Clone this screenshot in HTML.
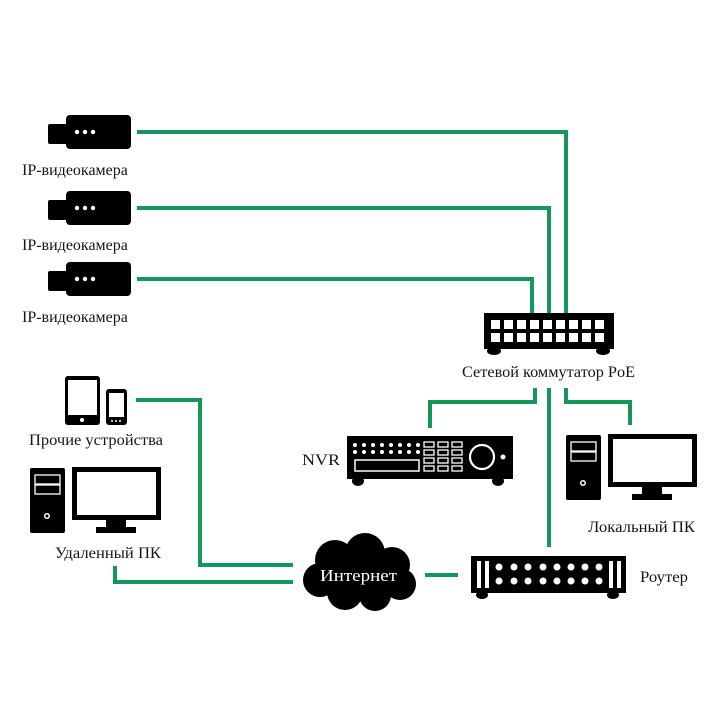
<!DOCTYPE html>
<html><head><meta charset="utf-8"><style>
html,body{margin:0;padding:0;background:#fff}
svg{display:block}
text{font-family:"Liberation Serif",serif;font-size:16px;fill:#151515}
</style></head><body>
<svg width="727" height="727" viewBox="0 0 727 727" xmlns="http://www.w3.org/2000/svg">
<g fill="none" stroke="#14975a" stroke-width="4">
<polyline points="137,132 566,132 566,313"/>
<polyline points="137,208 549,208 549,313"/>
<polyline points="137,279 532,279 532,313"/>
<polyline points="535,388 535,402 430,402 430,428"/>
<line x1="549" y1="388" x2="549" y2="547"/>
<polyline points="566,388 566,402 630,402 630,425"/>
<line x1="425" y1="575" x2="458" y2="575"/>
<polyline points="136,400 200,400 200,565 293,565"/>
<polyline points="115,566 115,582 293,582"/>
</g>
<g id="cam">
<rect x="66" y="115" width="65" height="34" rx="4" fill="#000"/>
<rect x="48" y="124" width="20" height="20" rx="2" fill="#000"/>
<circle cx="77" cy="132" r="2.2" fill="#fff"/><circle cx="85" cy="132" r="2.2" fill="#fff"/><circle cx="93" cy="132" r="2.2" fill="#fff"/>
</g>
<use href="#cam" y="76"/>
<use href="#cam" y="147"/>
<text x="22" y="175">IP-видеокамера</text>
<text x="22" y="250">IP-видеокамера</text>
<text x="22" y="322">IP-видеокамера</text>
<rect x="484" y="313" width="130" height="36" fill="#000"/>
<g fill="#fff">
<rect x="491" y="320" width="9" height="9"/><rect x="504" y="320" width="9" height="9"/><rect x="517" y="320" width="9" height="9"/><rect x="530" y="320" width="9" height="9"/><rect x="543" y="320" width="9" height="9"/><rect x="556" y="320" width="9" height="9"/><rect x="569" y="320" width="9" height="9"/><rect x="582" y="320" width="9" height="9"/><rect x="595" y="320" width="9" height="9"/>
<rect x="491" y="333" width="9" height="9"/><rect x="504" y="333" width="9" height="9"/><rect x="517" y="333" width="9" height="9"/><rect x="530" y="333" width="9" height="9"/><rect x="543" y="333" width="9" height="9"/><rect x="556" y="333" width="9" height="9"/><rect x="569" y="333" width="9" height="9"/><rect x="582" y="333" width="9" height="9"/><rect x="595" y="333" width="9" height="9"/>
</g>
<ellipse cx="494" cy="351" rx="7" ry="4" fill="#000"/><ellipse cx="603" cy="351" rx="7" ry="4" fill="#000"/>
<text x="462" y="377" textLength="173" lengthAdjust="spacingAndGlyphs">Сетевой коммутатор PoE</text>
<rect x="347" y="436" width="166" height="43" fill="#000"/>
<g fill="#fff">
<circle cx="355" cy="445" r="2"/><circle cx="364" cy="445" r="2"/><circle cx="373" cy="445" r="2"/><circle cx="382" cy="445" r="2"/><circle cx="391" cy="445" r="2"/><circle cx="400" cy="445" r="2"/><circle cx="409" cy="445" r="2"/><circle cx="418" cy="445" r="2"/>
<circle cx="355" cy="452" r="2"/><circle cx="364" cy="452" r="2"/><circle cx="373" cy="452" r="2"/><circle cx="382" cy="452" r="2"/><circle cx="391" cy="452" r="2"/><circle cx="400" cy="452" r="2"/><circle cx="409" cy="452" r="2"/><circle cx="418" cy="452" r="2"/>
</g>
<rect x="355" y="460" width="64" height="11" fill="none" stroke="#fff" stroke-width="1.5"/>
<g fill="none" stroke="#fff" stroke-width="1.3">
<rect x="424" y="442" width="10" height="5"/><rect x="438" y="442" width="10" height="5"/><rect x="452" y="442" width="10" height="5"/>
<rect x="424" y="450" width="10" height="5"/><rect x="438" y="450" width="10" height="5"/><rect x="452" y="450" width="10" height="5"/>
<rect x="424" y="458" width="10" height="5"/><rect x="438" y="458" width="10" height="5"/><rect x="452" y="458" width="10" height="5"/>
<rect x="424" y="466" width="10" height="5"/><rect x="438" y="466" width="10" height="5"/><rect x="452" y="466" width="10" height="5"/>
<circle cx="482" cy="457" r="12" stroke-width="2.2"/>
</g>
<circle cx="503" cy="457" r="2.5" fill="#fff"/>
<ellipse cx="358" cy="481" rx="6" ry="5" fill="#000"/><ellipse cx="498" cy="481" rx="6" ry="5" fill="#000"/>
<text x="302" y="465" textLength="38" lengthAdjust="spacingAndGlyphs">NVR</text>
<g id="pc">
<rect x="566" y="435" width="35" height="65" rx="2" fill="#000"/>
<rect x="571" y="442" width="25" height="9" fill="none" stroke="#fff" stroke-width="1.3"/>
<rect x="571" y="452" width="25" height="9" fill="none" stroke="#fff" stroke-width="1.3"/>
<circle cx="583" cy="483" r="3" fill="#fff"/><circle cx="583" cy="483" r="1.5" fill="#000"/>
<rect x="608" y="434" width="89" height="53" fill="#000"/>
<rect x="613" y="439" width="79" height="43" fill="#fff"/>
<rect x="642" y="487" width="20" height="8" fill="#000"/>
<rect x="632" y="494" width="40" height="6" fill="#000"/>
</g>
<text x="588" y="532" textLength="107" lengthAdjust="spacingAndGlyphs">Локальный ПК</text>
<use href="#pc" x="-536" y="33"/>
<text x="55" y="558" textLength="106" lengthAdjust="spacingAndGlyphs">Удаленный ПК</text>
<rect x="65" y="376" width="35" height="49" rx="3" fill="#000"/>
<rect x="68" y="380" width="29" height="35" fill="#fff"/>
<circle cx="82" cy="420" r="2" fill="#fff"/>
<rect x="106" y="389" width="21" height="36" rx="3" fill="#000"/>
<rect x="109" y="393" width="15" height="24" fill="#fff"/>
<circle cx="112" cy="421" r="1" fill="#fff"/><circle cx="116" cy="421" r="1" fill="#fff"/><circle cx="120" cy="421" r="1" fill="#fff"/>
<text x="29" y="445" textLength="134" lengthAdjust="spacingAndGlyphs">Прочие устройства</text>
<g fill="#000">
<circle cx="335" cy="560" r="20"/><circle cx="365" cy="553" r="20"/><circle cx="392" cy="565" r="18"/>
<circle cx="320" cy="580" r="17"/><circle cx="400" cy="584" r="16"/><circle cx="345" cy="592" r="18"/><circle cx="375" cy="595" r="16"/>
<rect x="320" y="560" width="80" height="35"/>
</g>
<text x="320" y="581" textLength="77" lengthAdjust="spacingAndGlyphs" style="fill:#fff;font-size:17px">Интернет</text>
<rect x="471" y="556" width="155" height="37" fill="#000"/>
<g fill="#fff">
<rect x="477" y="561" width="4" height="27"/><rect x="485" y="561" width="4" height="27"/>
<rect x="609" y="561" width="4" height="27"/><rect x="617" y="561" width="4" height="27"/>
<circle cx="499" cy="567" r="3.5"/><circle cx="514" cy="567" r="3.5"/><circle cx="528" cy="567" r="3.5"/><circle cx="543" cy="567" r="3.5"/><circle cx="557" cy="567" r="3.5"/><circle cx="571" cy="567" r="3.5"/><circle cx="585" cy="567" r="3.5"/><circle cx="599" cy="567" r="3.5"/>
<circle cx="499" cy="581" r="3.5"/><circle cx="514" cy="581" r="3.5"/><circle cx="528" cy="581" r="3.5"/><circle cx="543" cy="581" r="3.5"/><circle cx="557" cy="581" r="3.5"/><circle cx="571" cy="581" r="3.5"/><circle cx="585" cy="581" r="3.5"/><circle cx="599" cy="581" r="3.5"/>
</g>
<ellipse cx="482" cy="595" rx="6" ry="4" fill="#000"/><ellipse cx="613" cy="595" rx="6" ry="4" fill="#000"/>
<text x="640" y="582" textLength="48" lengthAdjust="spacingAndGlyphs">Роутер</text>
</svg>
</body></html>
